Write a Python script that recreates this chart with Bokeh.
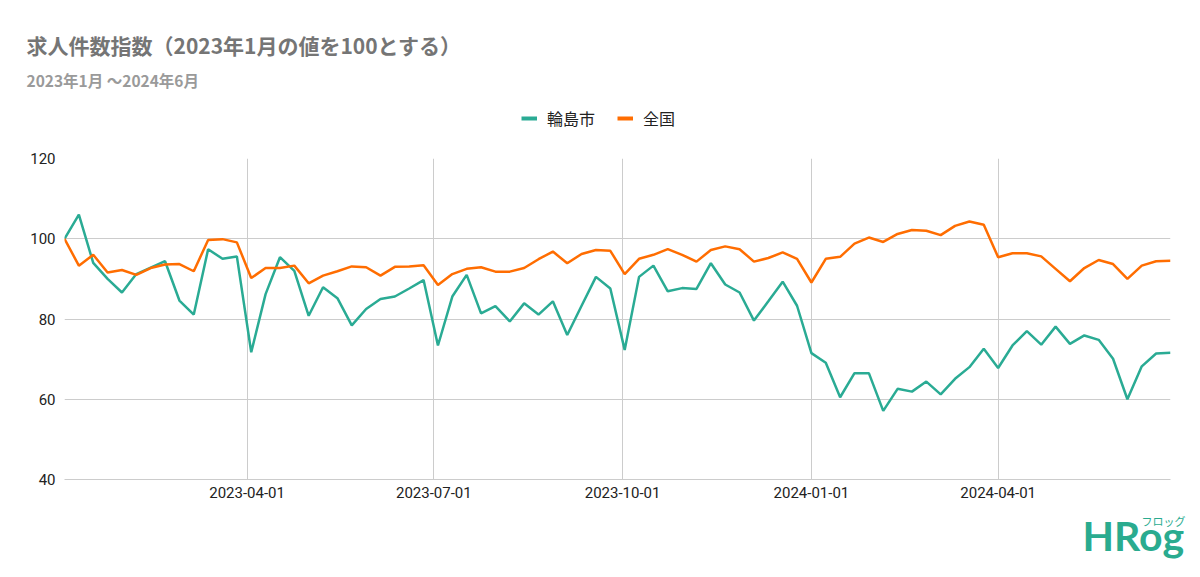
import pandas as pd
from bokeh.plotting import figure
from bokeh.layouts import column
from bokeh.models import (ColumnDataSource, Label, Legend, LegendItem, FixedTicker,
                          DatetimeTickFormatter, Range1d)
from bokeh.embed import file_html
from bokeh.resources import INLINE

# ---- data ----
weeks = pd.date_range("2023-01-02", periods=78, freq="7D")
wajima = [100.0, 106.0, 94.0, 90.0, 86.6, 91.2, 92.8, 94.4, 84.6, 81.1,
          97.4, 95.0, 95.6, 71.7, 86.2, 95.4, 92.0, 80.8, 87.9, 85.2,
          78.4, 82.5, 85.0, 85.6, 87.6, 89.7, 73.4, 85.6, 91.0, 81.4,
          83.2, 79.4, 83.9, 81.1, 84.4, 76.0, 83.3, 90.5, 87.6, 72.3,
          90.5, 93.3, 86.9, 87.7, 87.5, 93.9, 88.6, 86.6, 79.6, 84.4,
          89.3, 83.3, 71.5, 69.1, 60.5, 66.5, 66.5, 57.1, 62.6, 61.9,
          64.4, 61.2, 65.1, 68.0, 72.6, 67.8, 73.4, 77.0, 73.6, 78.1,
          73.8, 75.9, 74.8, 70.1, 60.0, 68.2, 71.4, 71.6]
zenkoku = [100.0, 93.3, 96.0, 91.6, 92.2, 91.0, 92.7, 93.6, 93.7, 91.9,
           99.7, 99.9, 99.1, 90.2, 92.7, 92.7, 93.3, 88.9, 90.8, 91.9,
           93.1, 92.9, 90.8, 93.0, 93.1, 93.4, 88.5, 91.2, 92.5, 92.9,
           91.8, 91.8, 92.7, 94.9, 96.8, 93.9, 96.2, 97.2, 97.0, 91.2,
           95.0, 96.0, 97.4, 96.0, 94.3, 97.2, 98.1, 97.4, 94.3, 95.2,
           96.6, 95.0, 89.1, 95.0, 95.5, 98.8, 100.3, 99.2, 101.2, 102.2,
           102.0, 100.9, 103.2, 104.3, 103.5, 95.4, 96.4, 96.4, 95.6, 92.5,
           89.4, 92.7, 94.7, 93.7, 90.0, 93.3, 94.4, 94.5]
series_names = ["輪島市", "全国"]
x_tick_dates = ["2023-04-01", "2023-07-01", "2023-10-01", "2024-01-01", "2024-04-01"]
y_ticks = [40, 60, 80, 100, 120]
title_text = "求人件数指数（2023年1月の値を100とする）"
subtitle_text = "2023年1月 ～2024年6月"
logo_text = "HRog"
logo_sub = "フロッグ"

TEAL = "#2aab94"
ORANGE = "#ff6d01"
GRID = "#cccccc"
LOGO = "#2aab8f"
W = 1200


def bare(height):
    f = figure(width=W, height=height, output_backend="svg", toolbar_location=None,
               x_range=Range1d(0, W), y_range=Range1d(height, 0),
               min_border=0, x_axis_type=None, y_axis_type=None)
    f.frame_align = False
    f.outline_line_color = None
    f.grid.visible = False
    return f


# ---- header: title, subtitle, legend ----
HEAD_H = 148
head = bare(HEAD_H)
head.add_layout(Label(x=26, y=44, text=title_text, text_font="Noto Sans CJK JP",
                      text_font_style="bold", text_font_size="21px",
                      text_color="#757575", text_baseline="middle"))
head.add_layout(Label(x=26, y=79, text=subtitle_text, text_font="Noto Sans CJK JP",
                      text_font_style="bold", text_font_size="15.5px",
                      text_color="#9a9a9a", text_baseline="middle"))
nan = float("nan")
dummy = ColumnDataSource(dict(x=[nan], y=[nan]))
r1 = head.line(x="x", y="y", source=dummy, line_color=TEAL, line_width=4)
r2 = head.line(x="x", y="y", source=dummy, line_color=ORANGE, line_width=4)
legend = Legend(items=[LegendItem(label=series_names[0], renderers=[r1]),
                       LegendItem(label=series_names[1], renderers=[r2])],
                orientation="horizontal", location=(521, 18),
                glyph_width=16, glyph_height=14, label_text_font="Noto Sans CJK JP",
                label_text_font_size="16px", label_text_color="#222222",
                spacing=22, padding=4, margin=0, label_standoff=10,
                border_line_color=None, background_fill_alpha=0)
head.add_layout(legend, "center")

# ---- main chart ----
src = ColumnDataSource(dict(date=weeks, wajima=wajima, zenkoku=zenkoku))
p = figure(width=W, height=362, x_axis_type="datetime",
           output_backend="svg", toolbar_location=None,
           x_range=Range1d(weeks[0].to_pydatetime(), weeks[-1].to_pydatetime()),
           y_range=Range1d(40, 120),
           min_border_left=64, min_border_right=30,
           min_border_top=10, min_border_bottom=31)
p.frame_align = False
p.outline_line_color = None

xt = FixedTicker(ticks=[pd.Timestamp(d).value / 1e6 for d in x_tick_dates])
p.xaxis.ticker = xt
p.xgrid.ticker = xt
p.xaxis.formatter = DatetimeTickFormatter(days="%Y-%m-%d", months="%Y-%m-%d",
                                          years="%Y-%m-%d", hours="%Y-%m-%d")
p.yaxis.ticker = FixedTicker(ticks=y_ticks)

for ax in (p.xaxis[0], p.yaxis[0]):
    ax.major_tick_line_color = None
    ax.minor_tick_line_color = None
    ax.major_tick_out = 0
    ax.major_label_text_font = "Roboto"
    ax.major_label_text_font_size = "15px"
    ax.major_label_text_color = "#222222"
p.yaxis.axis_line_color = None
p.xaxis.axis_line_color = GRID
p.yaxis.major_label_standoff = 9
p.xaxis.major_label_standoff = 7

p.xgrid.grid_line_color = GRID
p.ygrid.grid_line_color = GRID

p.line(x="date", y="wajima", source=src, line_color=TEAL, line_width=2.5)
p.line(x="date", y="zenkoku", source=src, line_color=ORANGE, line_width=2.5)

# ---- footer: logo ----
FOOT_H = 577 - HEAD_H - 362
foot = bare(FOOT_H)
foot.add_layout(Label(x=1082, y=25, text=logo_text, text_font="Lato",
                      text_font_style="bold", text_font_size="41px",
                      text_color=LOGO, text_baseline="middle"))
foot.add_layout(Label(x=1141, y=10, text=logo_sub, text_font="Noto Sans CJK JP",
                      text_font_size="11px", text_color=LOGO, text_baseline="middle"))

page = column(head, p, foot, spacing=0)
open("out.html", "w").write(file_html(page, INLINE))
